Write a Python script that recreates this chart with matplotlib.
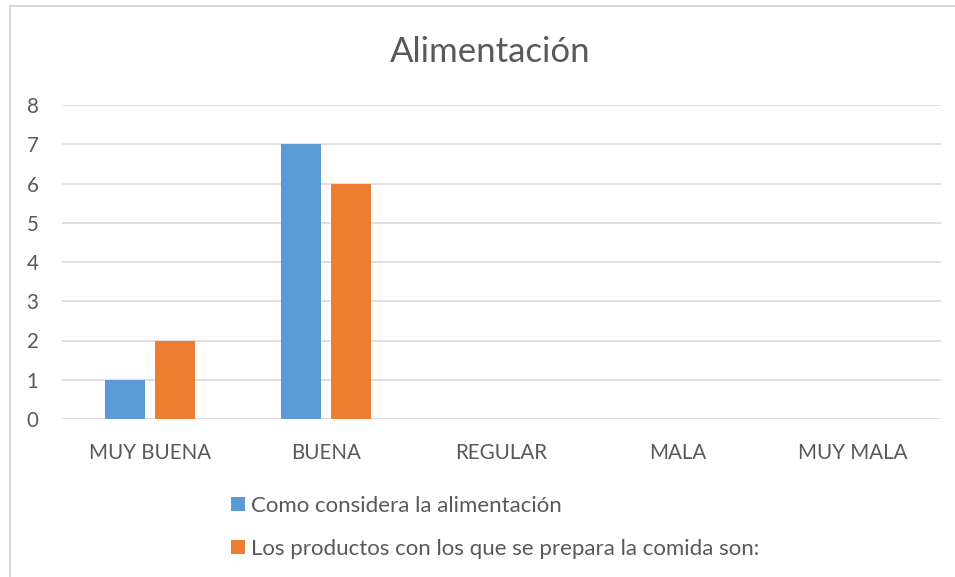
import matplotlib.pyplot as plt
import numpy as np
from matplotlib.patches import Rectangle

plt.rcParams['font.family'] = ['Lato', 'DejaVu Sans']

# Datos de la encuesta
categorias = ['MUY BUENA', 'BUENA', 'REGULAR', 'MALA', 'MUY MALA']
alimentacion = [1, 7, 0, 0, 0]
productos = [2, 6, 0, 0, 0]
series_nombres = ['Como considera la alimentación',
                  'Los productos con los que se prepara la comida son:']
colores = ['#5B9BD5', '#ED7D31']

W, H = 955, 577
fig = plt.figure(figsize=(W / 100, H / 100), dpi=100)

# marco gris claro del gráfico
fig.patches.append(Rectangle((10 / W, -0.1), 1.2, 1 - 6 / H + 0.1,
                             transform=fig.transFigure, fill=False,
                             edgecolor='#d9d9d9', linewidth=1.5))

ax = fig.add_axes([62 / W, 1 - 419 / H, (941 - 62) / W, (419 - 105) / H])

x = np.arange(len(categorias))
ancho = 0.228
ax.bar(x - 0.142, alimentacion, ancho, color=colores[0], label=series_nombres[0], zorder=3)
ax.bar(x + 0.142, productos, ancho, color=colores[1], label=series_nombres[1], zorder=3)

ax.set_xlim(-0.5, len(categorias) - 0.5)
ax.set_ylim(0, 8)
ax.set_yticks(range(0, 9))
ax.set_xticks(x)
ax.set_xticklabels(categorias)
ax.yaxis.grid(True, color='#d9d9d9', linewidth=1.2, zorder=0)
ax.set_axisbelow(True)
for s in ax.spines.values():
    s.set_visible(False)
ax.tick_params(axis='both', length=0, labelsize=14.8, labelcolor='#595959')
ax.tick_params(axis='y', pad=17)
ax.tick_params(axis='x', pad=17)

fig.text(490 / W, 1 - 52 / H, 'Alimentación', ha='center', va='center',
         fontsize=25, color='#595959')

fig.legend(loc='upper left', bbox_to_anchor=(231 / W, 1 - 496 / H),
           frameon=False, fontsize=16, labelcolor='#595959',
           handlelength=0.63, handleheight=0.63, handletextpad=0.27,
           labelspacing=1.03, borderpad=0, borderaxespad=0)

plt.savefig('out.png', dpi=100)
